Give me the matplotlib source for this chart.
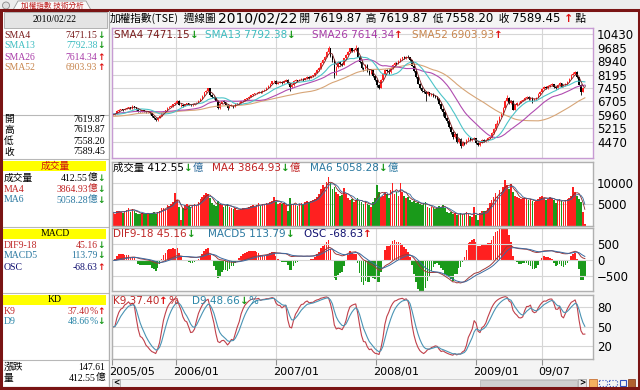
import numpy as np
import pandas as pd
import matplotlib

matplotlib.use("Agg")
import matplotlib.pyplot as plt
import matplotlib.transforms as mtransforms
from matplotlib.patches import Rectangle, Polygon, Circle
from matplotlib.offsetbox import TextArea, HPacker, AnnotationBbox

CJK = "Noto Sans CJK TC"
SANS = ["DejaVu Sans", CJK]
SERIF = ["Liberation Serif", CJK]
CJKF = [CJK, "DejaVu Sans"]

# ---- weekly TAIEX data, 2004/05 .. 2010/02 ----
close_prior = [5900, 5850, 5850, 5700, 5800, 5850, 5700, 5550, 5500, 5450, 5400, 5300, 5500,
               5650, 5750, 5850, 5850, 5800, 5850, 5950, 5850, 5800, 5700, 5750, 5900, 5950,
               5850, 5800, 5850, 5950, 6050, 6140, 6000, 6050, 6000, 6050, 6100, 6150, 6200,
               6250, 6350, 6200, 6050, 6000, 6050, 5900, 5800, 5850, 5900, 5950, 6000]

close = [
    # 2005
    6000, 6010, 6170, 6240, 6260, 6240, 6300, 6330, 6390, 6310, 6430, 6390, 6260, 6180, 6150, 6210,
    6170, 6110, 6120, 6050, 5890, 5780, 5650, 5800, 5900, 6050, 6150, 6200, 6360, 6400, 6440, 6548,
    # 2006
    6620, 6750, 6520, 6530, 6450, 6550, 6600, 6520, 6480, 6560, 6590, 6610, 6750, 6840, 7020, 7200,
    7300, 7430, 7050, 6950, 6870, 6750, 6330, 6560, 6700, 6650, 6520, 6350, 6480, 6500, 6380, 6540,
    6600, 6620, 6700, 6750, 6830, 6880, 6950, 7050, 7100, 7150, 7180, 7250, 7200, 7300, 7350, 7450,
    7550, 7700, 7823,
    # 2007
    7850, 7700, 7750, 7800, 7750, 7850, 7900, 7700, 7480, 7600, 7850, 7880, 7850, 7900, 7950, 7900,
    7980, 8050, 8000, 8100, 8150, 8300, 8450, 8550, 8850, 9000, 9200, 9450, 9650, 9250, 9000, 8200,
    8600, 8900, 8800, 8750, 9100, 9300, 9450, 9650, 9500, 9550, 9700, 9200, 8900, 8550, 8500, 8750,
    8400, 8250, 8450, 8100,
    # 2008
    7900, 7600, 7450, 7900, 8250, 8450, 8400, 8350, 8550, 8750, 8850, 8800, 8950, 9050, 9150, 9100,
    9200, 9150, 9000, 8700, 8400, 8050, 7700, 7450, 7300, 7250, 7100, 7200, 7050, 7100, 7000, 6950,
    6850, 6550, 6300, 6100, 5800, 5600, 5300, 5000, 4700, 4900, 4450, 4600, 4250, 4400, 4350, 4550,
    4650, 4550, 4600,
    # 2009 - 2010/02
    4650, 4400, 4300, 4400, 4550, 4500, 4560, 4650, 4700, 4950, 5150, 5450, 5600, 5850, 6050, 6350,
    6750, 6900, 6600, 6750, 6250, 6500, 6600, 6621.52, 6750, 6800, 6900, 6950, 6850, 6900, 6750, 6850,
    6900, 7100, 7250, 7400, 7500, 7450, 7550, 7600, 7650, 7500, 7450, 7600, 7721.9, 7516.34, 7600, 7700,
    7800, 7950, 8200, 8250, 8350, 8050, 7640, 7212, 7443.15, 7589.45,
]

high = [
    6080, 6070, 6200, 6280, 6310, 6300, 6330, 6380, 6420, 6420, 6480, 6460, 6400, 6280, 6210, 6250,
    6240, 6190, 6170, 6150, 6070, 5920, 5800, 5830, 5940, 6080, 6180, 6250, 6380, 6440, 6480, 6560,
    6680, 6800, 6760, 6590, 6560, 6580, 6640, 6620, 6560, 6590, 6630, 6650, 6780, 6880, 7050, 7230,
    7340, 7474, 7440, 7100, 7000, 6900, 6780, 6600, 6740, 6760, 6680, 6540, 6520, 6560, 6520, 6570,
    6640, 6660, 6730, 6790, 6860, 6920, 6980, 7080, 7140, 7190, 7230, 7280, 7290, 7330, 7390, 7480,
    7590, 7730, 7850,
    7920, 7880, 7800, 7850, 7840, 7880, 7960, 7930, 7720, 7650, 7870, 7930, 7920, 7940, 8000, 7990,
    8020, 8100, 8090, 8140, 8200, 8330, 8490, 8600, 8880, 9050, 9240, 9500, 9807, 9700, 9300, 9050,
    8650, 8940, 8960, 8850, 9130, 9340, 9500, 9700, 9690, 9620, 9859, 9720, 9250, 8950, 8620, 8800,
    8780, 8450, 8500, 8480,
    8150, 7950, 7700, 7950, 8300, 8500, 8520, 8480, 8600, 8800, 8900, 8920, 9000, 9100, 9200, 9220,
    9250, 9309, 9200, 9030, 8750, 8450, 8100, 7750, 7500, 7380, 7300, 7280, 7250, 7180, 7150, 7060,
    7000, 6880, 6600, 6350, 6150, 5850, 5650, 5350, 5050, 4980, 4950, 4680, 4650, 4480, 4470, 4600,
    4720, 4680, 4650,
    4750, 4680, 4450, 4450, 4600, 4620, 4620, 4700, 4780, 5000, 5200, 5500, 5650, 5900, 6100, 6400,
    6800, 7084, 6950, 6800, 6780, 6550, 6650, 6680, 6800, 6860, 6950, 7000, 7000, 6960, 6950, 6890,
    6950, 7150, 7300, 7450, 7560, 7560, 7600, 7650, 7720, 7680, 7550, 7650, 7760, 7750, 7650, 7740,
    7840, 7990, 8230, 8320, 8395, 8380, 8080, 7680, 7480, 7619.87,
]

low = [
    5930, 5960, 5990, 6140, 6200, 6190, 6210, 6270, 6300, 6280, 6300, 6350, 6220, 6140, 6100, 6120,
    6140, 6080, 6070, 6020, 5860, 5740, 5618, 5630, 5770, 5880, 6020, 6120, 6180, 6330, 6370, 6420,
    6520, 6600, 6480, 6380, 6420, 6430, 6520, 6480, 6440, 6460, 6530, 6560, 6600, 6720, 6820, 7000,
    7170, 7280, 7000, 6880, 6820, 6700, 6300, 6310, 6540, 6600, 6480, 6232, 6320, 6450, 6350, 6370,
    6520, 6570, 6600, 6680, 6730, 6800, 6860, 6930, 7030, 7080, 7120, 7160, 7170, 7180, 7280, 7330,
    7430, 7530, 7680,
    7780, 7650, 7660, 7720, 7700, 7720, 7820, 7650, 7306, 7440, 7580, 7820, 7800, 7820, 7870, 7860,
    7880, 7950, 7960, 7980, 8060, 8130, 8280, 8420, 8530, 8820, 8980, 9170, 9420, 9200, 8900, 7980,
    8150, 8580, 8750, 8680, 8730, 9070, 9280, 9420, 9450, 9460, 9520, 9150, 8850, 8500, 8380, 8480,
    8350, 8150, 8220, 8050,
    7850, 7500, 7384, 7430, 7880, 8200, 8350, 8250, 8300, 8520, 8700, 8750, 8770, 8920, 9000, 9050,
    9060, 9100, 8950, 8650, 8350, 8000, 7650, 7400, 7200, 7150, 6708, 7050, 7000, 7000, 6950, 6900,
    6780, 6500, 6250, 5900, 5700, 5500, 5200, 4900, 4600, 4650, 4400, 4400, 4089, 4200, 4280, 4320,
    4500, 4500, 4480,
    4560, 4350, 4250, 4200, 4380, 4450, 4420, 4500, 4600, 4680, 4920, 5120, 5400, 5580, 5820, 6030,
    6330, 6700, 6550, 6570, 6200, 6230, 6450, 6550, 6600, 6700, 6760, 6850, 6800, 6810, 6600, 6700,
    6800, 6880, 7080, 7220, 7380, 7400, 7420, 7520, 7570, 7450, 7380, 7420, 7570, 7480, 7480, 7570,
    7670, 7780, 7930, 8150, 8200, 7980, 7600, 7080, 7200, 7558.20,
]

# weekly turnover, 100 million NTD
volume = [
    3200, 2900, 3400, 3600, 3300, 3100, 3500, 3800, 4200, 3300, 3900, 3600, 3000, 2800, 2700, 3100,
    2900, 2800, 3000, 2700, 3100, 3300, 2900, 3200, 3500, 4100, 4300, 4000, 4800, 4600, 5000, 5600,
    7750, 6000, 4500, 1400, 4300, 4800, 5200, 4600, 4400, 4900, 5100, 4700, 5500, 6200, 6800, 7200,
    7600, 7400, 6500, 5300, 4800, 4600, 5800, 5000, 4900, 4500, 4700, 5200, 4400, 4200, 3900, 4100,
    3800, 3700, 4000, 4200, 4300, 4100, 4400, 4600, 4800, 4500, 4900, 5300, 4700, 5000, 5200, 5400,
    5100, 5600, 5800,
    6800, 5600, 5200, 5400, 5000, 5300, 4800, 3600, 6400, 5200, 5000, 4800, 4700, 5000, 5400, 5000,
    5600, 5800, 5500, 5900, 6000, 6300, 6800, 7500, 8500, 9500, 9000, 10200, 11500, 10000, 8500, 9000,
    8000, 7500, 7000, 7200, 8800, 7500, 6500, 6000, 6200, 5500, 6000, 6500, 5800, 5500, 5000, 5800,
    5200, 4800, 4500, 5500,
    6500, 9500, 8000, 6800, 7000, 8000, 7500, 6500, 8400, 9900, 7500, 8000, 7000, 9900, 8000, 7000,
    6500, 6800, 6000, 5500, 5800, 5300, 5600, 5000, 4800, 5300, 5500, 4500, 4200, 4400, 4100, 3900,
    4300, 4700, 4500, 4800, 4200, 3300, 3000, 3200, 2800, 3000, 2600, 2500, 3100, 2700, 2900, 3200,
    2800, 2400, 2200,
    4400, 2600, 1500, 3000, 3600, 3500, 3400, 4200, 5300, 6000, 6800, 7600, 7000, 8400, 8000, 9000,
    10700, 9500, 8500, 9800, 8000, 7000, 6800, 6500, 6200, 6400, 6600, 6300, 6000, 6200, 5800, 5600,
    5900, 6200, 6700, 7000, 6500, 6000, 6300, 6800, 6500, 6000, 5400, 5800, 6200, 5900, 5600, 6000,
    6200, 6500, 7000, 9100, 7800, 7090, 6300, 5500, 3247, 412.55,
]

quote_open = 7619.87

tick_pos = [-0.5, 32.4, 83.9, 135.4, 186.9, 220.7]
tick_labels = ["2005/05", "2006/01", "2007/01", "2008/01", "2009/01", "09/07"]
price_ticks = [4470, 5215, 5960, 6705, 7450, 8195, 8940, 9685, 10430]
vol_ticks = [5000, 10000]
macd_ticks = [-500, 0, 500]
kd_ticks = [20, 50, 80]

UP = "#ff2020"
GREEN = "#1a9a1a"
GRID = "#d6d6d6"
W, H = 640, 390
XLIM = (-0.5, 247.2)


def px_axes(fig, left, top, right, bottom, **kw):
    return fig.add_axes([left / W, 1 - bottom / H, (right - left) / W, (bottom - top) / H], **kw)


def rich(ax, x, y, parts, size=7.5, family=SANS, align=(0, 0.5)):
    boxes = []
    for p in parts:
        props = dict(color=p[1], fontsize=size, family=family)
        if len(p) > 2:
            props.update(p[2])
        boxes.append(TextArea(p[0], textprops=props))
    pack = HPacker(children=boxes, align="baseline", pad=0, sep=0)
    ab = AnnotationBbox(pack, (x, y), xycoords="data", box_alignment=align,
                        frameon=False, pad=0, annotation_clip=False)
    ax.add_artist(ab)


def style(ax, yticks, ylim, spine="#b0b0b0"):
    ax.set_xlim(*XLIM)
    ax.set_ylim(*ylim)
    ax.set_yticks(yticks)
    ax.set_xticks(tick_pos)
    ax.yaxis.tick_right()
    ax.tick_params(axis="y", length=0, pad=3, labelsize=8.5)
    ax.tick_params(axis="x", length=0, labelbottom=False)
    ax.grid(True, color=GRID, lw=0.8)
    ax.set_axisbelow(True)
    for sp in ax.spines.values():
        sp.set_color(spine)
        sp.set_linewidth(1)


def main():
    fig = plt.figure(figsize=(6.4, 3.9), dpi=100, facecolor="#f4f4f4")
    bg = fig.add_axes([0, 0, 1, 1], zorder=-10)
    bg.set_xlim(0, W)
    bg.set_ylim(H, 0)
    bg.axis("off")
    ov = fig.add_axes([0, 0, 1, 1], zorder=20)
    ov.set_xlim(0, W)
    ov.set_ylim(H, 0)
    ov.axis("off")

    # ---- derived series ----
    c = np.array(close, dtype=float)
    n = len(c)
    x = np.arange(n)
    hi = np.array(high, dtype=float)
    lo = np.array(low, dtype=float)
    o = np.r_[close_prior[-1], c[:-1]]
    o[-1] = quote_open
    vol = np.array(volume, dtype=float)
    full = pd.Series(np.r_[close_prior, c])
    k0 = len(close_prior)
    sma = {w: full.rolling(w, min_periods=1).mean().values[k0:] for w in (4, 13, 26, 52)}
    dif_all = full.ewm(span=9, adjust=False).mean() - full.ewm(span=18, adjust=False).mean()
    macd_all = dif_all.ewm(span=5, adjust=False).mean()
    dif = dif_all.values[k0:]
    macd = macd_all.values[k0:]
    osc = dif - macd

    hi9 = pd.Series(hi).rolling(9, min_periods=1).max().values
    lo9 = pd.Series(lo).rolling(9, min_periods=1).min().values
    rsv = (c - lo9) / (hi9 - lo9) * 100
    kk = np.empty(n)
    dd = np.empty(n)
    kp = dp = 50.0
    for i in range(n):
        kp = kp * 2 / 3 + rsv[i] / 3
        dp = dp * 2 / 3 + kp / 3
        kk[i], dd[i] = kp, dp
    vma4 = pd.Series(vol).rolling(4, min_periods=1).mean().values
    vma6 = pd.Series(vol).rolling(6, min_periods=1).mean().values

    up = c >= o
    vup = np.r_[True, c[1:] >= c[:-1]]

    # ---- price ----
    ax = px_axes(fig, 112, 28, 593, 158)
    style(ax, price_ticks, (3558, 10786), spine="#c79bd3")
    ax.vlines(x[up], lo[up], hi[up], color=UP, lw=0.6)
    ax.vlines(x[~up], lo[~up], hi[~up], color="black", lw=0.6)
    ax.bar(x, c - o, bottom=o, width=0.75, color=np.where(up, UP, "black"), linewidth=0)
    ax.plot(x, sma[52], color="#d7a577", lw=0.8)
    ax.plot(x, sma[26], color="#b04cb0", lw=0.8)
    ax.plot(x, sma[13], color="#4cc4c8", lw=0.8)
    ax.plot(x, sma[4], color="#7a1c1c", lw=0.6)

    # ---- volume ----
    av = px_axes(fig, 112, 162, 593, 226)
    style(av, vol_ticks, (0, 14880))
    av.bar(x, vol, width=0.85, color=np.where(vup, UP, GREEN), linewidth=0)
    av.plot(x, vma4, color="#8a2a2a", lw=0.6)
    av.plot(x, vma6, color="#3a6a9a", lw=0.6)

    # ---- MACD ----
    am = px_axes(fig, 112, 228, 593, 291, zorder=2)
    style(am, macd_ticks, (-969, 1000))
    am.patch.set_visible(False)
    ao = px_axes(fig, 112, 228, 593, 291, zorder=1)
    ao.set_xlim(*XLIM)
    ao.set_ylim(-126, 130)
    ao.axis("off")
    bg.add_patch(Rectangle((112, 228), 481, 63, fc="white", ec="none"))
    ao.bar(x, osc, width=0.85, color=np.where(osc >= 0, UP, GREEN), linewidth=0)
    am.plot(x, dif, color="#a03a3a", lw=0.7)
    am.plot(x, macd, color="#3a6aa0", lw=0.7)

    # ---- KD ----
    ak = px_axes(fig, 112, 295, 593, 359)
    style(ak, kd_ticks, (0, 98.5))
    ak.plot(x, kk, color="#c0404a", lw=0.8)
    ak.plot(x, dd, color="#4a94b4", lw=0.8)
    ak.tick_params(axis="x", length=4, color="#909090", labelbottom=True, labelsize=8, pad=2)
    ak.set_xticklabels(tick_labels)
    shift = mtransforms.ScaledTranslation(-3 / 100, 0, fig.dpi_scale_trans)
    for lab in ak.get_xticklabels():
        lab.set_horizontalalignment("left")
        lab.set_transform(lab.get_transform() + shift)

    # ---- panel headers ----
    bold = {"fontweight": "bold"}
    dn = ("↓", GREEN, bold)
    upa = ("↑", "#e01010", bold)
    rich(ov, 114, 35, [("SMA4 7471.15", "#7a1c1c"), dn])
    rich(ov, 205, 35, [("SMA13 7792.38", "#3cbcc0"), dn])
    rich(ov, 312, 35, [("SMA26 7614.34", "#a83ca8"), upa])
    rich(ov, 412, 35, [("SMA52 6903.93", "#c8864e"), upa])
    rich(ov, 113, 168, [("成交量 412.55", "black"), dn, ("億", "#2a6a9a")])
    rich(ov, 212, 168, [("MA4 3864.93", "#c02020"), dn, ("億", "#c02020")])
    rich(ov, 310, 168, [("MA6 5058.28", "#2a78a0"), dn, ("億", "#2a78a0")])
    rich(ov, 113, 234, [("DIF9-18 45.16", "#c02828"), dn])
    rich(ov, 208, 234, [("MACD5 113.79", "#2a78a0"), dn])
    rich(ov, 304, 234, [("OSC -68.63", "#101070"), upa])
    rich(ov, 113, 301, [("K9 37.40", "#c02828"), upa, ("%", "#c02828")])
    rich(ov, 192, 301, [("D9 48.66", "#2a86a8"), dn, ("%", "#2a86a8")])

    # ---- title row ----
    tc = {"fontsize": 7.7, "family": CJKF}
    td = {"fontsize": 10, "family": SANS}
    tn = {"fontsize": 8.5, "family": SANS}
    rich(ov, 110, 18, [
        ("加權指數(TSE)", "black", tc), ("  週線圖 ", "black", tc),
        ("2010/02/22", "black", td), (" 開 ", "black", tc), ("7619.87", "black", tn),
        ("  高 ", "black", tc), ("7619.87", "black", tn), ("  低 ", "black", tc),
        ("7558.20", "black", tn), ("  收 ", "black", tc), ("7589.45 ", "black", tn),
        ("↑", "#e01010", {"fontsize": 8, "fontweight": "bold"}), (" 點", "black", tc),
    ])

    # ---- window chrome ----
    bg.add_patch(Rectangle((0, 0), W, 10, fc="#ececec", ec="none"))
    bg.add_patch(Polygon([(13, 10), (18, 1), (86, 1), (91, 10)], closed=True,
                         fc="#fafafa", ec="#9a9a9a", lw=0.6))
    bg.add_patch(Circle((6, 5.5), 3.5, fc="#e0e0e0", ec="#8a8a8a", lw=0.6))
    ov.text(52, 5.5, "加權指數 技術分析", color="#c02020", fontsize=5.5, family=CJKF,
            ha="center", va="center")
    bg.add_patch(Rectangle((3, 11), 105, 375, fc="white", ec="none"))
    bg.add_patch(Rectangle((112, 28), 481, 130, fc="white", ec="none"))

    # left info panel
    bg.add_patch(Rectangle((4, 12), 103, 16, fc="#e4e4e4", ec="#a8a8a8", lw=0.6))
    ov.text(55, 20, "2010/02/22", fontsize=7, family=SERIF, ha="center", va="center")
    for yy in (115, 159, 227, 293, 360):
        bg.plot([3, 108], [yy, yy], color="#b8b8b8", lw=0.8)
    bg.plot([108.5, 108.5], [11, 386], color="#b0b0b0", lw=0.8)

    def row(y, label, value, color, arrow=None, vcolor=None, unit=""):
        ov.text(4, y, label, color=color, fontsize=7, family=SERIF, va="center", ha="left")
        parts = [(value, vcolor or color)]
        if unit:
            parts.append((unit, vcolor or color))
        if arrow is not None:
            parts.append(arrow)
        rich(ov, 105, y, parts, size=7, family=SERIF, align=(1, 0.5))

    dn7 = ("↓", GREEN, {"fontweight": "bold", "family": SANS, "fontsize": 6.5})
    up7 = ("↑", "#e01010", {"fontweight": "bold", "family": SANS, "fontsize": 6.5})
    row(35, "SMA4", "7471.15", "#7a1c1c", dn7)
    row(46, "SMA13", "7792.38", "#3cbcc0", dn7)
    row(57, "SMA26", "7614.34", "#a83ca8", up7)
    row(68, "SMA52", "6903.93", "#c8864e", up7)
    row(119, "開", "7619.87", "black")
    row(130, "高", "7619.87", "black")
    row(141, "低", "7558.20", "black")
    row(152, "收", "7589.45", "black")

    for top, label, col in ((161, "成交量", "#d01010"), (229, "MACD", "black"), (295, "KD", "black")):
        bg.add_patch(Rectangle((3, top), 103, 10, fc="#ffff00", ec="none"))
        ov.text(55, top + 5, label, color=col, fontsize=7, family=SERIF, ha="center", va="center")

    row(178, "成交量", "412.55", "black", dn7, unit="億")
    row(189, "MA4", "3864.93", "#c02020", dn7, unit="億")
    row(200, "MA6", "5058.28", "#2a78a0", dn7, unit="億")
    row(245, "DIF9-18", "45.16", "#c02828", dn7)
    row(256, "MACD5", "113.79", "#2a78a0", dn7)
    row(267, "OSC", "-68.63", "#101070", up7)
    row(311, "K9", "37.40", "#c02828", up7, unit="%")
    row(322, "D9", "48.66", "#2a86a8", dn7, unit="%")
    row(367, "漲跌", "147.61", "black")
    row(378, "量", "412.55", "black", unit="億")

    # bottom scroll bar
    bg.add_patch(Rectangle((112, 379), 474, 8, fc="#f2f2f2", ec="#c0c0c0", lw=0.5))
    bg.add_patch(Rectangle((480, 379.5), 97, 7, fc="#cfcfcf", ec="#b0b0b0", lw=0.5))
    for bx, ch in ((112, "<"), (578, ">")):
        bg.add_patch(Rectangle((bx, 379), 8, 8, fc="#e6e6e6", ec="#a0a0a0", lw=0.5))
        ov.text(bx + 4, 383, ch, fontsize=5.5, ha="center", va="center", fontweight="bold")
    bg.add_patch(Rectangle((589, 379), 8, 8, fc="#f4b060", ec="#c06020", lw=0.5))
    bg.add_patch(Rectangle((599, 380), 8, 6, fc="none", ec="#3050c0", lw=0.8, ls=":"))
    bg.add_patch(Rectangle((609, 380), 8, 6, fc="none", ec="#3050c0", lw=0.8, ls=":"))
    bg.add_patch(Rectangle((620, 380), 6, 6, fc="none", ec="#3050c0", lw=0.8))
    bg.add_patch(Rectangle((628, 379), 7, 8, fc="#b06030", ec="#803010", lw=0.5))

    # outer frame
    bg.add_patch(Rectangle((1.2, 9.5), 637.6, 378.8, fc="none", ec="#7a1414", lw=2.2))

    fig.savefig("out.png", dpi=100, facecolor=fig.get_facecolor())


if __name__ == "__main__":
    main()
